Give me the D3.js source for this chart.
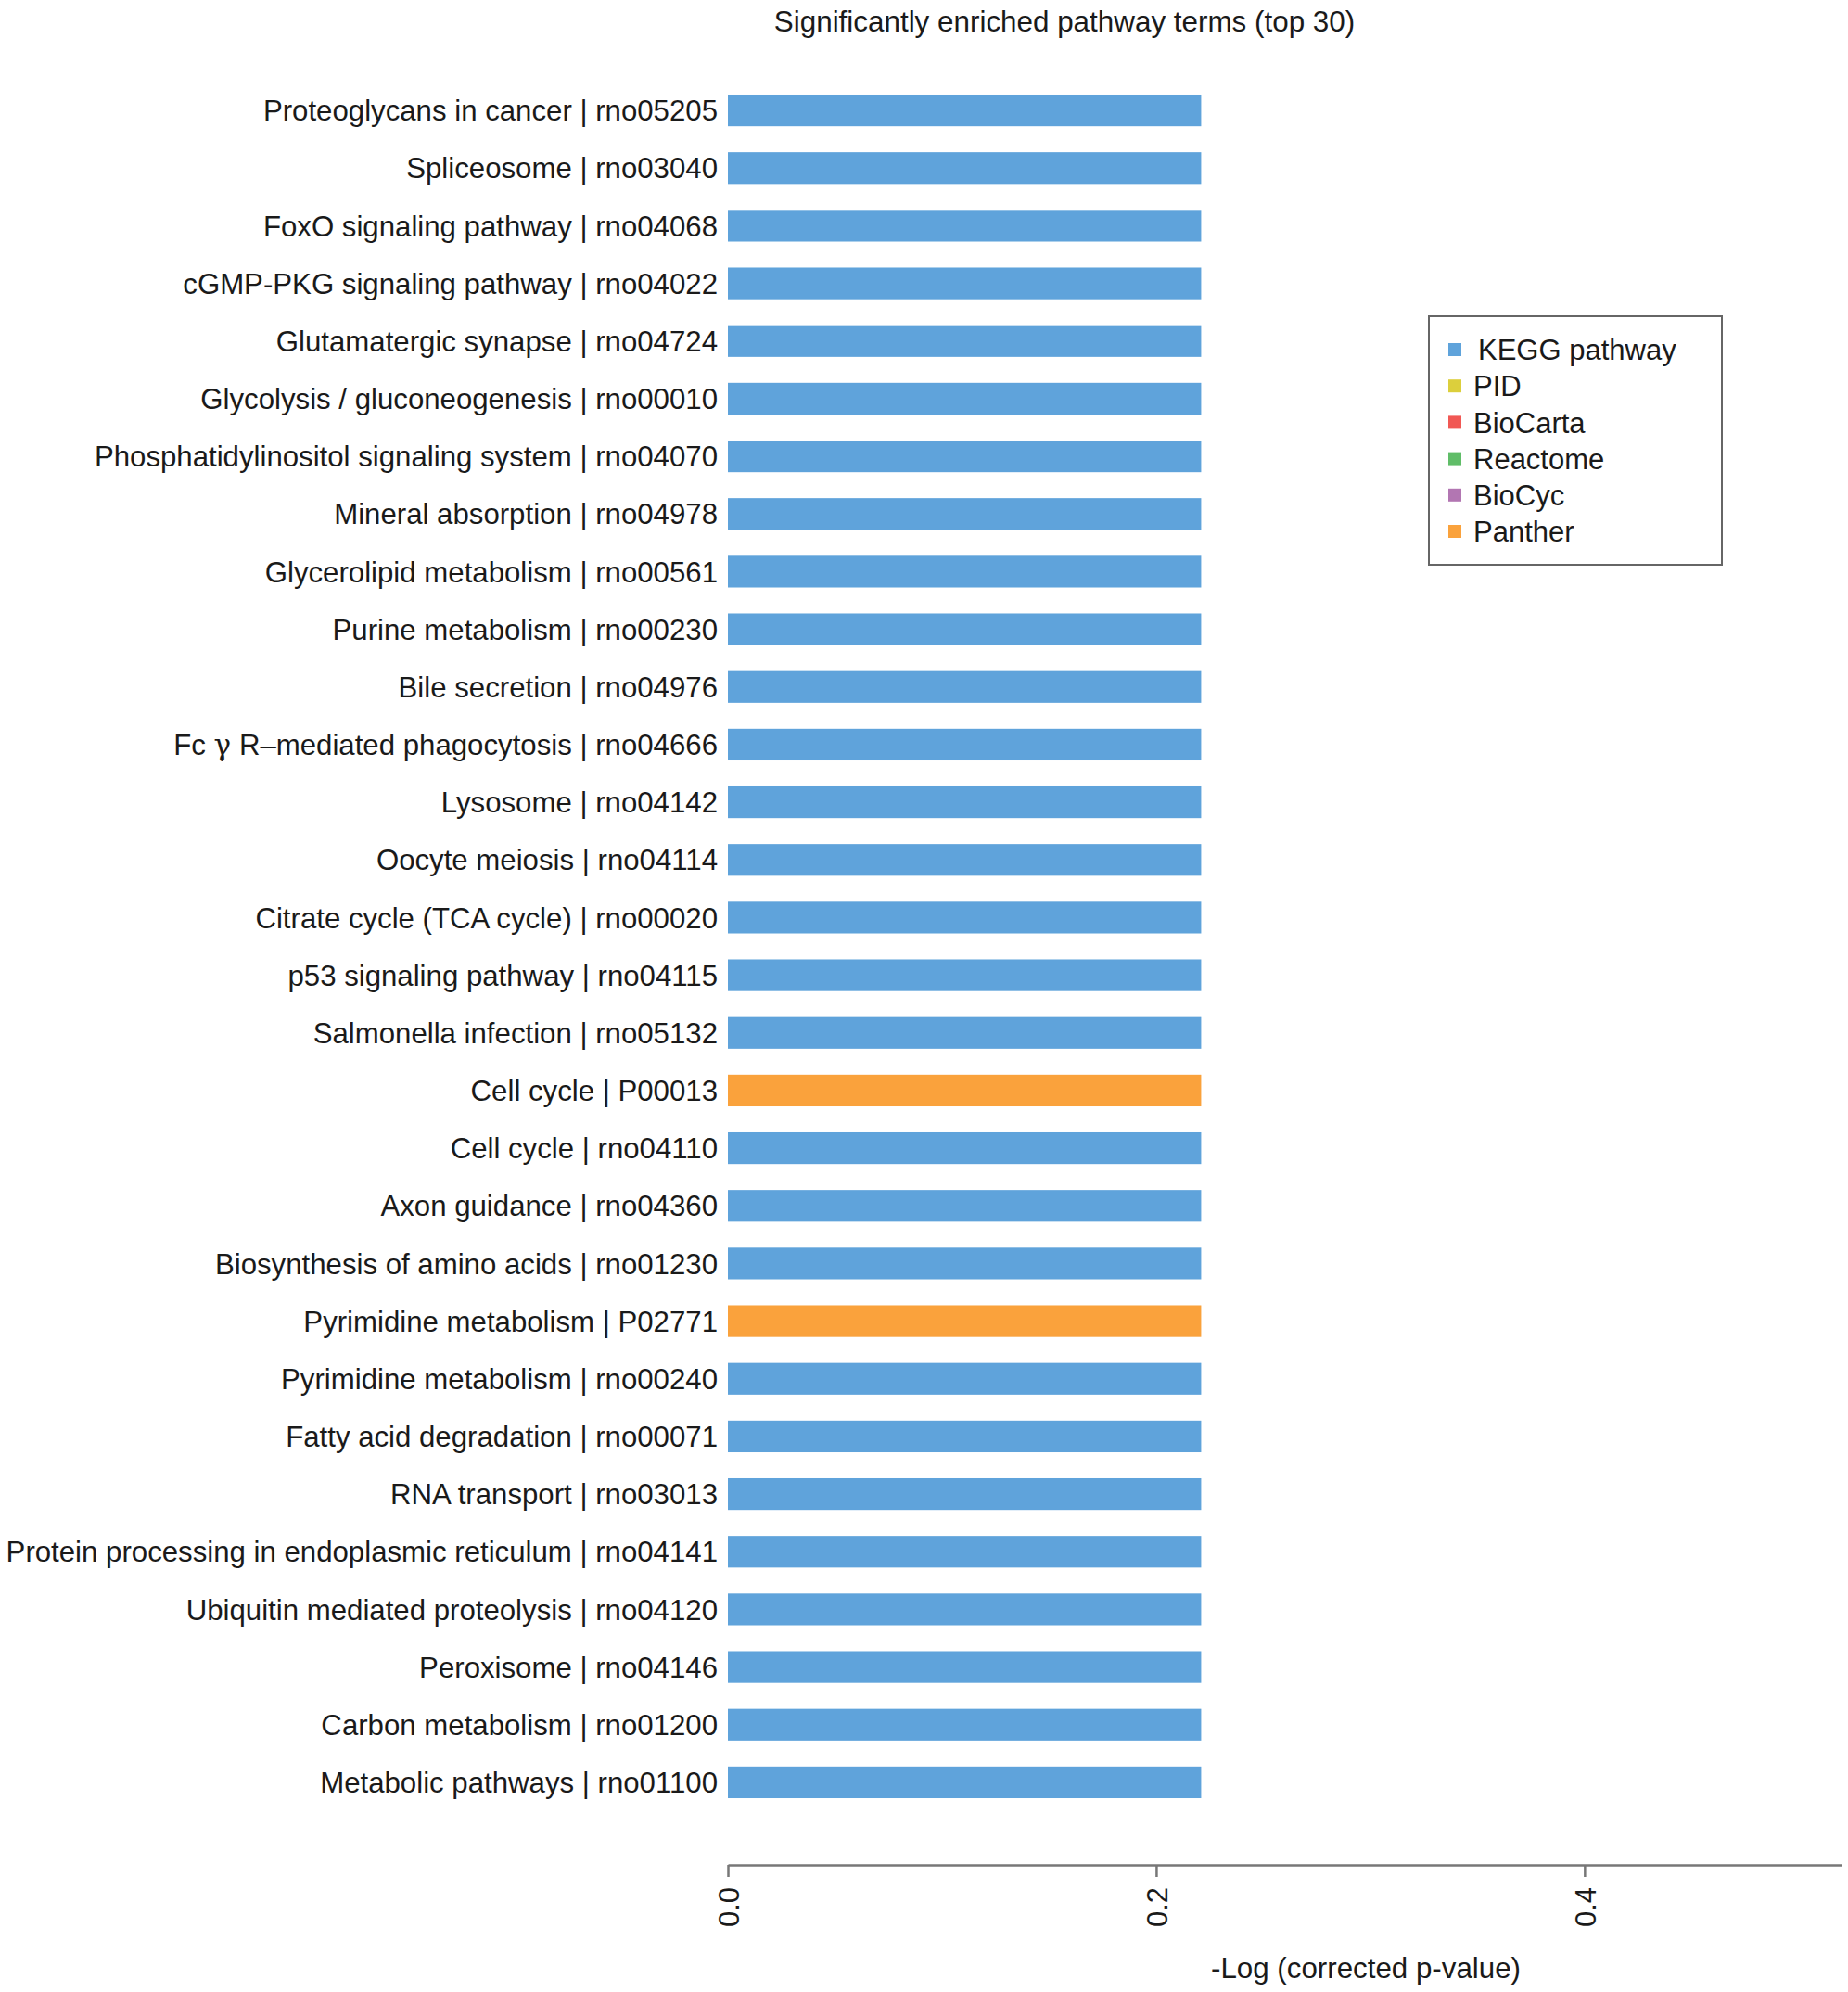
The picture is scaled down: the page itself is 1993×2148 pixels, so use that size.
<!DOCTYPE html>
<html>
<head>
<meta charset="utf-8">
<script src="https://cdn.jsdelivr.net/npm/d3@7"></script>
<style>
    body { margin: 0; background: #fff; }
    text { font-family: "Liberation Sans", Arial, sans-serif; fill: #1a1a1a; }
</style>
</head>
<body>
<script>
// pathway terms, top to bottom
const terms = [
    "Proteoglycans in cancer | rno05205",
    "Spliceosome | rno03040",
    "FoxO signaling pathway | rno04068",
    "cGMP-PKG signaling pathway | rno04022",
    "Glutamatergic synapse | rno04724",
    "Glycolysis / gluconeogenesis | rno00010",
    "Phosphatidylinositol signaling system | rno04070",
    "Mineral absorption | rno04978",
    "Glycerolipid metabolism | rno00561",
    "Purine metabolism | rno00230",
    "Bile secretion | rno04976",
    "Fc γ R–mediated phagocytosis | rno04666",
    "Lysosome | rno04142",
    "Oocyte meiosis | rno04114",
    "Citrate cycle (TCA cycle) | rno00020",
    "p53 signaling pathway | rno04115",
    "Salmonella infection | rno05132",
    "Cell cycle | P00013",
    "Cell cycle | rno04110",
    "Axon guidance | rno04360",
    "Biosynthesis of amino acids | rno01230",
    "Pyrimidine metabolism | P02771",
    "Pyrimidine metabolism | rno00240",
    "Fatty acid degradation | rno00071",
    "RNA transport | rno03013",
    "Protein processing in endoplasmic reticulum | rno04141",
    "Ubiquitin mediated proteolysis | rno04120",
    "Peroxisome | rno04146",
    "Carbon metabolism | rno01200",
    "Metabolic pathways | rno01100"
];

const sources = [
    "KEGG pathway", "KEGG pathway", "KEGG pathway", "KEGG pathway", "KEGG pathway",
    "KEGG pathway", "KEGG pathway", "KEGG pathway", "KEGG pathway", "KEGG pathway",
    "KEGG pathway", "KEGG pathway", "KEGG pathway", "KEGG pathway", "KEGG pathway",
    "KEGG pathway", "KEGG pathway", "Panther", "KEGG pathway", "KEGG pathway",
    "KEGG pathway", "Panther", "KEGG pathway", "KEGG pathway", "KEGG pathway",
    "KEGG pathway", "KEGG pathway", "KEGG pathway", "KEGG pathway", "KEGG pathway"
];

// -log10(corrected p-value)
const scores = [
    0.221, 0.221, 0.221, 0.221, 0.221, 0.221, 0.221, 0.221, 0.221, 0.221,
    0.221, 0.221, 0.221, 0.221, 0.221, 0.221, 0.221, 0.221, 0.221, 0.221,
    0.221, 0.221, 0.221, 0.221, 0.221, 0.221, 0.221, 0.221, 0.221, 0.221
];

const legendNames = ["KEGG pathway", "PID", "BioCarta", "Reactome", "BioCyc", "Panther"];
const legendColors = ["#5fa3db", "#dccf3c", "#f15854", "#60bd68", "#b276b2", "#faa23c"];
const xTicks = [0, 0.2, 0.4];

const W = 1993, H = 2148;
const svg = d3.select("body").append("svg")
    .attr("width", W)
    .attr("height", H);

svg.append("rect").attr("width", W).attr("height", H).attr("fill", "#fff");

const x = d3.scaleLinear().domain([0, 0.52]).range([785, 1986]);
const y = d3.scaleBand().domain(terms).range([88, 1953]).paddingInner(0.45).paddingOuter(0.225);
const color = d3.scaleOrdinal().domain(legendNames).range(legendColors);

// title
svg.append("text")
    .attr("x", 1148).attr("y", 34)
    .attr("text-anchor", "middle")
    .style("font-size", "31.4px")
    .text("Significantly  enriched pathway terms (top 30)");

// bars
svg.append("g").selectAll("rect")
    .data(terms)
    .join("rect")
    .attr("x", x(0))
    .attr("y", d => y(d))
    .attr("width", (d, i) => x(scores[i]) - x(0))
    .attr("height", y.bandwidth())
    .attr("fill", (d, i) => color(sources[i]));

// category labels
const labels = svg.append("g").selectAll("text")
    .data(terms)
    .join("text")
    .attr("x", 774)
    .attr("y", d => y(d) + y.bandwidth() / 2)
    .attr("dy", "0.36em")
    .attr("text-anchor", "end")
    .style("font-size", "31.2px");

labels.each(function (d) {
    const t = d3.select(this);
    if (d.includes("γ")) {
        const parts = d.split("γ");
        t.append("tspan").text(parts[0]);
        t.append("tspan").style("font-family", "'DejaVu Serif', serif").text("γ");
        t.append("tspan").text(parts[1]);
    } else {
        t.text(d);
    }
});

// x axis
const axis = svg.append("g")
    .attr("transform", "translate(0,2011)")
    .call(d3.axisBottom(x).tickValues(xTicks).tickFormat(d3.format(".1f")).tickSize(13).tickSizeOuter(0));

axis.select(".domain").attr("stroke", "#777").attr("stroke-width", 2.5);
axis.selectAll(".tick line").attr("stroke", "#777").attr("stroke-width", 2.5);
axis.selectAll(".tick text")
    .attr("transform", "rotate(-90)")
    .attr("x", -24)
    .attr("y", 0)
    .attr("dy", "0.36em")
    .attr("text-anchor", "end")
    .style("font-size", "31px")
    .style("font-family", "'Liberation Sans', Arial, sans-serif")
    .attr("fill", "#1a1a1a");

svg.append("text")
    .attr("x", 1473).attr("y", 2133)
    .attr("text-anchor", "middle")
    .style("font-size", "31.3px")
    .text("-Log (corrected p-value)");

// legend
const legend = svg.append("g");
legend.append("rect")
    .attr("x", 1541).attr("y", 341)
    .attr("width", 316).attr("height", 268)
    .attr("fill", "none")
    .attr("stroke", "#666")
    .attr("stroke-width", 2);

const ly = d3.scalePoint().domain(legendNames).range([377, 573]);

legend.selectAll(".sw")
    .data(legendNames)
    .join("rect")
    .attr("class", "sw")
    .attr("x", 1562)
    .attr("y", d => ly(d) - 7)
    .attr("width", 14).attr("height", 14)
    .attr("fill", d => color(d));

legend.selectAll(".lt")
    .data(legendNames)
    .join("text")
    .attr("class", "lt")
    .attr("x", (d, i) => i === 0 ? 1594 : 1589)
    .attr("y", d => ly(d))
    .attr("dy", "0.36em")
    .style("font-size", "31px")
    .text(d => d);
</script>
</body>
</html>
